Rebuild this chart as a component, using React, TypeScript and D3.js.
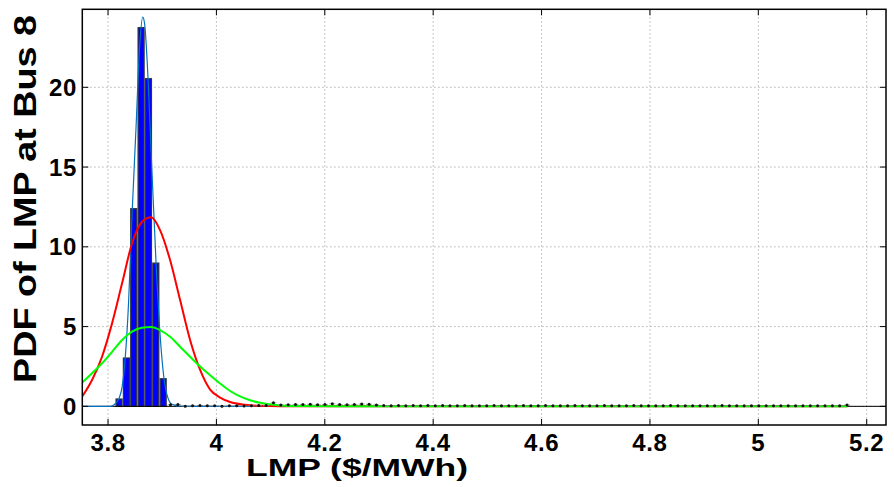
import * as d3 from 'd3'

// histogram of LMP at bus 8: 100 bins, centres from binStart spaced binStep
const binStart = 3.8203
const binStep = 0.01357
const pdfValues = [
  0.46, 3.03, 12.39, 23.74, 20.54, 8.98, 1.73, 0.10, 0.12, 0.0,
  0.03, 0.05, 0.04, 0.03, 0.0, 0.04, 0.03, 0.02, 0.03, 0.06,
  0.05, 0.22, 0.08, 0.10, 0.11, 0.12, 0.13, 0.10, 0.12, 0.16,
  0.12, 0.10, 0.12, 0.14, 0.13, 0.09, 0.05, 0.04, 0.05, 0.04,
  0.05, 0.03, 0.06, 0.04, 0.05, 0.04, 0.04, 0.05, 0.03, 0.04,
  0.04, 0.05, 0.03, 0.04, 0.04, 0.05, 0.03, 0.04, 0.05, 0.04,
  0.03, 0.04, 0.05, 0.04, 0.04, 0.03, 0.05, 0.04, 0.04, 0.03,
  0.05, 0.04, 0.04, 0.03, 0.04, 0.05, 0.04, 0.03, 0.04, 0.04,
  0.03, 0.04, 0.05, 0.04, 0.03, 0.04, 0.04, 0.03, 0.04, 0.04,
  0.03, 0.04, 0.03, 0.04, 0.04, 0.03, 0.04, 0.03, 0.04, 0.08,
]

// kernel density (thin blue)
const kdeX = [3.752, 3.8037, 3.8129, 3.8203, 3.8259, 3.8314, 3.8379, 3.8443, 3.8517, 3.8582, 3.8641, 3.8674, 3.8739, 3.8813, 3.8886, 3.896, 3.9034, 3.9108, 3.9182, 3.933, 3.9699, 5.1642]
const kdeY = [0, 0, 0.15, 0.5, 1.2, 2.9, 6.5, 12, 17.5, 22.5, 24.4, 24.0, 20.5, 14.5, 9, 4.5, 1.7, 0.5, 0.12, 0.02, 0, 0]

// fitted curves (red, green)
const redX = [3.752, 3.7705, 3.7889, 3.8074, 3.8259, 3.8443, 3.8628, 3.8794, 3.896, 3.9145, 3.933, 3.9514, 3.9699, 3.9884, 4.0068, 4.0253, 4.053, 4.0807, 4.1176, 5.1642]
const redY = [0.6, 1.65, 3.11, 5.2, 7.71, 10.22, 11.57, 11.85, 11.05, 9.17, 6.66, 4.16, 2.28, 1.05, 0.55, 0.27, 0.1, 0.03, 0, 0]
const greenX = [3.752, 3.7705, 3.7889, 3.8074, 3.8259, 3.8443, 3.8628, 3.8794, 3.896, 3.9145, 3.933, 3.9514, 3.9699, 3.9884, 4.0068, 4.0253, 4.0437, 4.0622, 4.0807, 4.1176, 4.1546, 4.2285, 5.1642]
const greenY = [1.48, 2.07, 2.7, 3.42, 4.16, 4.68, 4.93, 4.97, 4.78, 4.36, 3.74, 3.11, 2.5, 1.95, 1.43, 0.96, 0.62, 0.38, 0.22, 0.06, 0.015, 0.002, 0]

const xTicks = [3.8, 4, 4.2, 4.4, 4.6, 4.8, 5, 5.2]
const yTicks = [0, 5, 10, 15, 20]

const W = 894
const H = 487
const left = 82.3
const top = 9.3
const right = 886
const bottom = 425
const font = '"Liberation Sans", Arial, sans-serif'

export default function App() {
  const x = d3.scaleLinear().domain([3.7525, 5.2356]).range([left, right])
  const y = d3.scaleLinear().domain([-1.17, 24.89]).range([bottom, top])

  const bins = pdfValues.map((v, i) => ({ c: binStart + i * binStep, v }))
  const barW = (x(binStep) - x(0)) * 0.82

  const line = d3.line<[number, number]>().x((d) => x(d[0])).y((d) => y(d[1])).curve(d3.curveMonotoneX)
  const pts = (xs: number[], ys: number[]) => xs.map((v, i) => [v, ys[i]] as [number, number])

  return (
    <div style={{ position: 'absolute', left: 0, top: 0 }}>
      <svg width={W} height={H} style={{ display: 'block', background: '#fff' }}>
        <defs>
          <clipPath id="plot">
            <rect x={left} y={top} width={right - left} height={bottom - top} />
          </clipPath>
        </defs>
        <rect width={W} height={H} fill="#fff" />

        {/* grid */}
        <g stroke="#a0a0a0" strokeWidth={1} strokeDasharray="1.2,2.8">
          {xTicks.map((t) => (
            <line key={'gx' + t} x1={x(t)} x2={x(t)} y1={top} y2={bottom} />
          ))}
          {yTicks.map((t) => (
            <line key={'gy' + t} x1={left} x2={right} y1={y(t)} y2={y(t)} />
          ))}
        </g>

        <g clipPath="url(#plot)">
          {/* bars */}
          {bins.map((b, i) =>
            b.v > 0.3 ? (
              <rect
                key={'b' + i}
                x={x(b.c) - barW / 2}
                y={y(b.v)}
                width={barW}
                height={y(0) - y(b.v)}
                fill="#0000ff"
                stroke="#333"
                strokeWidth={1.2}
              />
            ) : null
          )}
          {/* baseline */}
          <line x1={left} x2={right} y1={y(0)} y2={y(0)} stroke="#000" strokeWidth={1} />
          <path d={line(pts(kdeX, kdeY)) || ''} fill="none" stroke="#0072bd" strokeWidth={1.2} />
          <path d={line(pts(redX, redY)) || ''} fill="none" stroke="#ff0000" strokeWidth={2} />
          <path d={line(pts(greenX, greenY)) || ''} fill="none" stroke="#00ff00" strokeWidth={2} />
          {/* near-empty bins show as dots on the baseline */}
          {bins.map((b, i) =>
            b.v <= 0.3 ? (
              <g key={'t' + i}>
                <line x1={x(b.c) - barW / 2} x2={x(b.c) + barW / 2} y1={y(b.v)} y2={y(b.v)} stroke="#888" strokeWidth={0.8} />
                <circle cx={x(b.c)} cy={y(b.v)} r={1.5} fill="#111" />
              </g>
            ) : null
          )}
        </g>

        {/* ticks */}
        <g stroke="#000" strokeWidth={1}>
          {xTicks.map((t) => (
            <g key={'tx' + t}>
              <line x1={x(t)} x2={x(t)} y1={bottom} y2={bottom - 6} />
              <line x1={x(t)} x2={x(t)} y1={top} y2={top + 6} />
            </g>
          ))}
          {yTicks.map((t) => (
            <g key={'ty' + t}>
              <line x1={left} x2={left + 6} y1={y(t)} y2={y(t)} />
              <line x1={right} x2={right - 6} y1={y(t)} y2={y(t)} />
            </g>
          ))}
        </g>
        <rect x={left} y={top} width={right - left} height={bottom - top} fill="none" stroke="#000" strokeWidth={1.5} />

        {/* tick labels */}
        <g fontFamily={font} fontWeight="bold" fontSize={24} fill="#000" letterSpacing={0.6}>
          {xTicks.map((t) => (
            <text key={'lx' + t} x={x(t)} y={451} textAnchor="middle">
              {d3.format('~g')(t)}
            </text>
          ))}
          {yTicks.map((t) => (
            <text key={'ly' + t} x={77} y={y(t) + 8.5} textAnchor="end">
              {t}
            </text>
          ))}
        </g>

        <text
          x={357}
          y={476}
          textAnchor="middle"
          fontFamily={font}
          fontWeight="bold"
          fontSize={24}
          textLength={222}
          lengthAdjust="spacingAndGlyphs"
        >
          LMP ($/MWh)
        </text>
        <text
          transform="translate(36,199) rotate(-90)"
          textAnchor="middle"
          fontFamily={font}
          fontWeight="bold"
          fontSize={31}
          textLength={368}
          lengthAdjust="spacingAndGlyphs"
        >
          PDF of LMP at Bus 8
        </text>
      </svg>
    </div>
  )
}
